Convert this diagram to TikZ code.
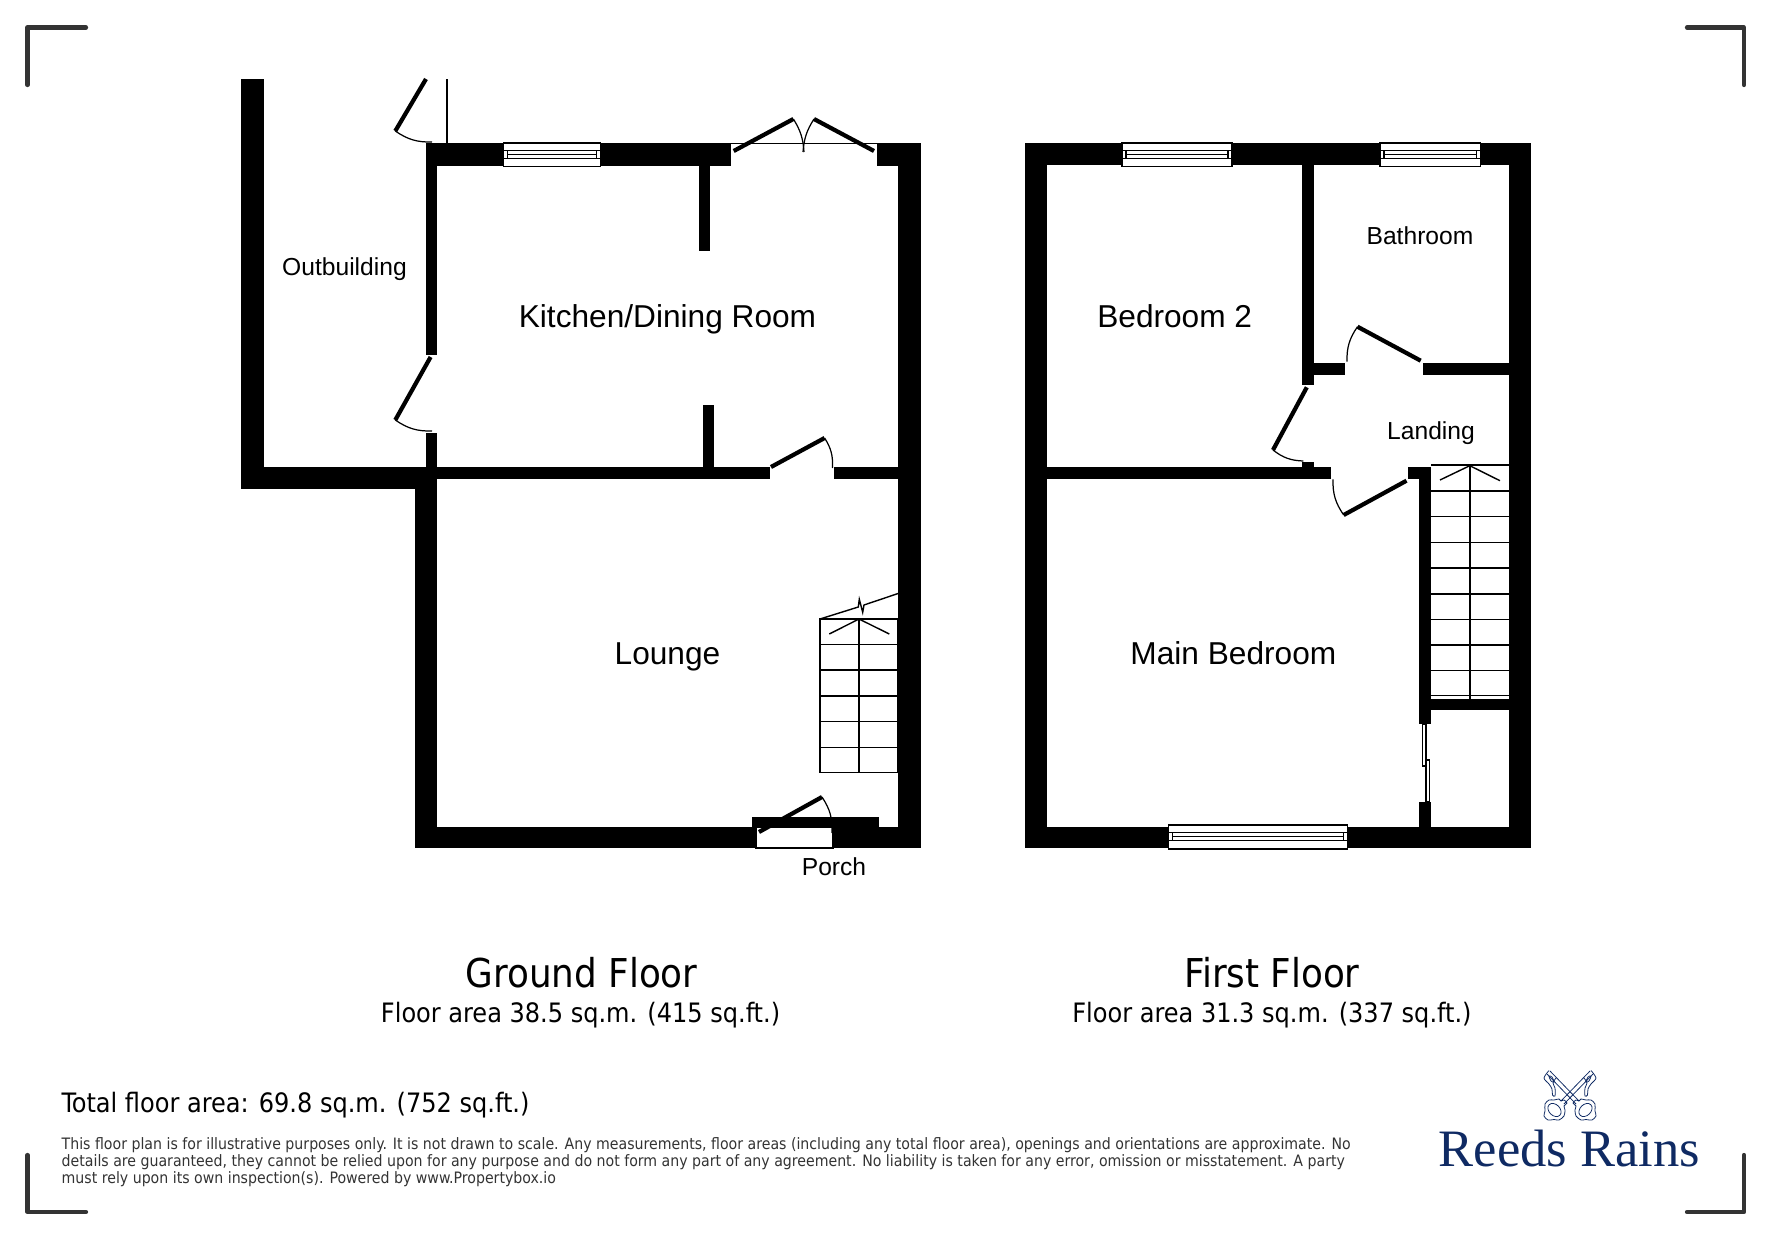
\documentclass[tikz,border=0pt]{standalone}
\usepackage{fontspec}
\setmainfont{Liberation Sans}
\newfontfamily\notefont{DejaVu Sans Condensed}
\newfontfamily\logofont{Liberation Serif}
\definecolor{logoblue}{HTML}{0F2A63}
\definecolor{markgrey}{HTML}{333333}
\definecolor{notegrey}{HTML}{333333}
\tikzset{
	wall/.style={fill=black,draw=none},
	doorleaf/.style={line width=1.2pt},
	doorarc/.style={line width=0.35pt},
	fine/.style={line width=0.4pt},
	cropmark/.style={draw=markgrey,line width=1.2pt,line cap=round,line join=round},
	bigroom/.style={font=\fontsize{9}{11}\selectfont},
	smallroom/.style={font=\fontsize{7}{9}\selectfont},
	floortitle/.style={font=\notefont\fontsize{11.3}{13}\selectfont},
	floorarea/.style={font=\notefont\fontsize{7.6}{9}\selectfont},
}
\def\swingdoor(#1)(#2)(#3)[#4]{\draw[doorleaf] (#1) -- (#2); \draw[doorarc] (#2) to[#4] (#3);}
\def\planwindow(#1,#2)(#3,#4){
	\draw[fine,fill=white] (#1,#2) rectangle (#3,#4);
	\draw[fine] (#1,#2+7.5) -- (#3,#2+7.5);
	\draw[fine] (#1,#2+15.5) -- (#3,#2+15.5);
	\draw[fine] (#1+4,#2+7.5) rectangle (#3-4,#2+15.5);
	\draw[fine] (#1+4,#2+11.5) -- (#3-4,#2+11.5);
}
\begin{document}
\begin{tikzpicture}[x=0.01cm,y=-0.01cm]
	\useasboundingbox (0,0) rectangle (1771,1239);

	% corners
	\draw[cropmark] (27.5,85) -- (27.5,27.5) -- (86,27.5);
	\draw[cropmark] (1687,27.5) -- (1744,27.5) -- (1744,85);
	\draw[cropmark] (27.5,1155) -- (27.5,1212) -- (86,1212);
	\draw[cropmark] (1687,1212) -- (1744,1212) -- (1744,1155);

	% ground floor walls
	\fill[wall] (241,79) rectangle (263.5,489);
	\fill[wall] (241,467) rectangle (437,489);
	\fill[wall] (414.5,467) rectangle (437,848);
	\fill[wall] (425.5,143) rectangle (437,355);
	\fill[wall] (425.5,433) rectangle (437,467);
	\fill[wall] (425.5,143) rectangle (730.5,166);
	\fill[wall] (876.5,143) rectangle (920.5,166);
	\fill[wall] (898,143) rectangle (920.5,848);
	\fill[wall] (699,166) rectangle (710,251);
	\fill[wall] (703,405) rectangle (714,467);
	\fill[wall] (437,467) rectangle (769.5,479);
	\fill[wall] (834,467) rectangle (898,479);
	\fill[wall] (414.5,827) rectangle (756,848);
	\fill[wall] (833,827) rectangle (920.5,848);
	\fill[wall] (752,817) rectangle (879,827);

	% ground floor openings
	\planwindow(503.6,143)(600.5,166.5)
	\draw[fine] (756,827) rectangle (833,848);
	\swingdoor(759,832)(822,797)(832,833)[bend left=18]
	\swingdoor(771,467)(824.6,438)(832.4,468)[bend left=18]
	\swingdoor(430.6,357)(395.3,420)(432,431)[bend right=18]
	\swingdoor(426,79)(395.3,131)(432,142)[bend right=18]
	\draw[fine] (447,79) -- (447,143);
	\draw[fine] (731,143.5) -- (877,143.5);
	\swingdoor(733.7,151)(793.4,119)(804,152)[bend left=14]
	\swingdoor(874,151)(814,119)(803,152)[bend right=14]

	% ground floor stairs
	\draw[fine] (820,619) rectangle (898,772.7);
	\draw[fine] (859,619) -- (859,772.7);
	\foreach \stepy in {644.3,670,696,721.3,747.3}
		\draw[fine] (820,\stepy) -- (898,\stepy);
	\draw[fine] (829.3,634) -- (859,619) -- (889.3,634);
	\draw[fine] (820,619) -- (858.3,607) -- (859.3,599.3) -- (862.7,612.3) -- (864,605) -- (898.7,593.3);

	% first floor walls
	\fill[wall] (1025.2,143) rectangle (1047.2,848);
	\fill[wall] (1025.2,143) rectangle (1531,165);
	\fill[wall] (1508.6,143) rectangle (1531,848);
	\fill[wall] (1025.2,827) rectangle (1531,848);
	\fill[wall] (1302,165) rectangle (1314,385);
	\fill[wall] (1314,363) rectangle (1345.4,375);
	\fill[wall] (1422.8,363) rectangle (1508.6,375);
	\fill[wall] (1302,462.3) rectangle (1314,467.3);
	\fill[wall] (1047,467.3) rectangle (1331,478.7);
	\fill[wall] (1408,467.3) rectangle (1431.3,478.7);
	\fill[wall] (1419.3,467.3) rectangle (1431.3,724);
	\fill[wall] (1431,699.3) rectangle (1508.6,710.3);
	\fill[wall] (1419.3,801.7) rectangle (1431.3,827);

	% first floor openings
	\planwindow(1122,143)(1231.8,166.5)
	\planwindow(1379.8,143)(1480.6,166.5)
	\planwindow(1168.7,825)(1347.3,849)
	\swingdoor(1420.7,360.7)(1357.5,326.7)(1347,361.7)[bend right=18]
	\swingdoor(1306.8,387.3)(1273,450)(1303.4,461)[bend right=18]
	\swingdoor(1406.5,480.7)(1343.7,515)(1333,479.3)[bend left=18]
	\draw[fine,fill=white] (1422.7,724) rectangle (1426,766);
	\draw[fine,fill=white] (1426,760) rectangle (1429.3,801.7);

	% first floor stairs
	\draw[fine] (1431,465) -- (1508.6,465);
	\draw[fine] (1469.8,465) -- (1469.8,699);
	\foreach \stepy in {491,516.7,542.4,568,593.8,619.5,645,670.7,695.3}
		\draw[fine] (1431,\stepy) -- (1508.6,\stepy);
	\draw[fine] (1440,480) -- (1469.8,465.7) -- (1500,480.7);

	% rooms
	\node[bigroom] (kitchen) at (667.5,319.5) {Kitchen/Dining Room};
	\node[bigroom] (lounge) at (667.5,656.5) {Lounge};
	\node[smallroom] (outbuilding) at (344.5,269.5) {Outbuilding};
	\node[smallroom] (porch) at (834,867) {Porch};
	\node[bigroom] (bedroomtwo) at (1174.7,316) {Bedroom 2};
	\node[smallroom] (bathroom) at (1420,235.5) {Bathroom};
	\node[smallroom] (landing) at (1431,433) {Landing};
	\node[bigroom] (mainbedroom) at (1233.4,653) {Main Bedroom};

	% captions
	\node[floortitle] (groundtitle) at (581.7,973) {Ground Floor};
	\node[floorarea] (groundarea) at (580.6,1015) {Floor area 38.5 sq.m. (415 sq.ft.)};
	\node[floortitle] (firsttitle) at (1272,973) {First Floor};
	\node[floorarea] (firstarea) at (1272,1015) {Floor area 31.3 sq.m. (337 sq.ft.)};
	\node[floorarea,anchor=west,inner sep=0pt] (totalarea) at (61,1105.5) {Total floor area: 69.8 sq.m. (752 sq.ft.)};
	\node[anchor=north west,inner sep=0pt,text=notegrey,align=left,font=\notefont\fontsize{4.47}{4.85}\selectfont] (disclaimer) at (61,1137) {This floor plan is for illustrative purposes only. It is not drawn to scale. Any measurements, floor areas (including any total floor area), openings and orientations are approximate. No\\details are guaranteed, they cannot be relied upon for any purpose and do not form any part of any agreement. No liability is taken for any error, omission or misstatement. A party\\must rely upon its own inspection(s). Powered by www.Propertybox.io};

	% logo
	\node[inner sep=0pt,text=logoblue,anchor=base,font=\logofont\fontsize{14.95}{16}\selectfont] (logo) at (1569.5,1166) {Reeds Rains};
	\foreach \keyside in {1,-1}{
		\begin{scope}[shift={(1570,1090)},xscale=\keyside,draw=logoblue,line width=0.22pt]
			% shaft
			\draw (-20,-19) -- (9,11) (-23,-16) -- (6,14);
			% bit
			\draw plot[smooth] coordinates {(-21,-19.5) (-26,-12) (-21,-6) (-18,-1) (-17.5,5) (-15,6) (-15,-2) (-17,-7) (-14,-12)};
			\draw plot[smooth cycle] coordinates {(-21,-14) (-18,-13) (-16,-8) (-19,-9)};
			% bow
			\draw plot[smooth cycle] coordinates {(6,10) (9,11) (11,9) (16,10) (21,10) (25,14) (25,21) (26,26) (22,30) (16,29.5) (11,30) (6,26) (5,20) (6,16) (3,13)};
			\draw[rotate around={45:(15.5,20)}] (15.5,20) ellipse (7.5 and 5.5);
		\end{scope}
	}
\end{tikzpicture}
\end{document}
